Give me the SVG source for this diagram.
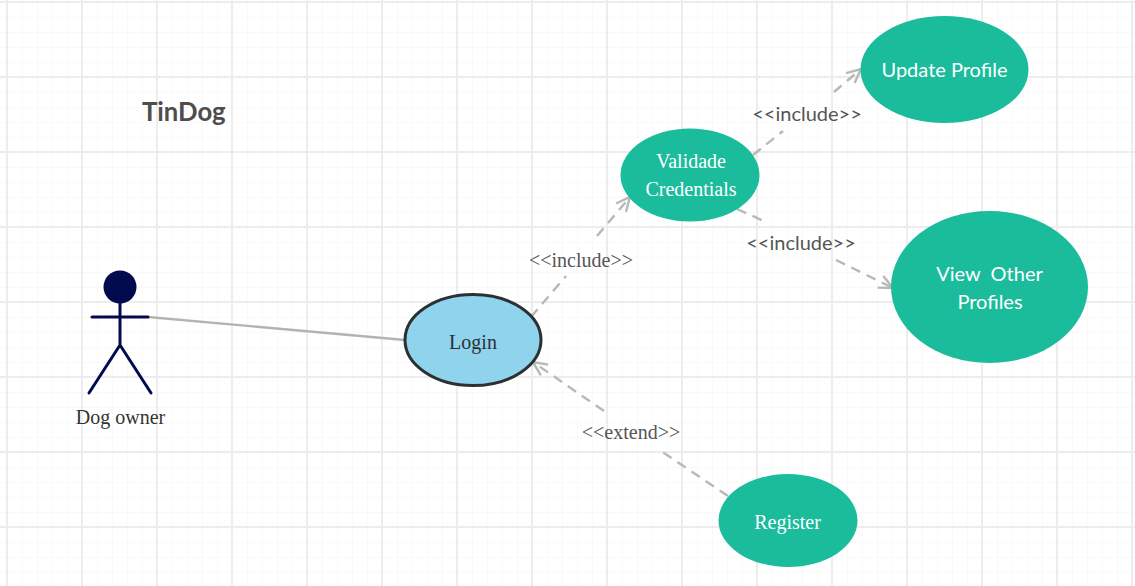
<svg xmlns="http://www.w3.org/2000/svg" width="1135" height="586" viewBox="0 0 1135 586">
<defs>
<pattern id="minor" x="7" y="2" width="15" height="15" patternUnits="userSpaceOnUse"><path d="M0.5 0V15M0 0.5H15" fill="none" stroke="#f9f9f9" stroke-width="1"/></pattern>
<pattern id="major" x="6" y="1" width="75" height="75" patternUnits="userSpaceOnUse"><path d="M1 0V75M0 1H75" fill="none" stroke="#ededed" stroke-width="2"/></pattern>
<marker id="open" markerUnits="userSpaceOnUse" markerWidth="24" markerHeight="24" refX="20" refY="12" orient="auto"><path d="M6 5.500L20 12L6 18.500" fill="none" stroke="#b8b8b8" stroke-width="2.400"/></marker>
</defs>
<style>
.dash{fill:none;stroke:#b8b8b8;stroke-width:2.400;stroke-dasharray:10 7}
.ser{font-family:"Liberation Serif",serif}
.lat{font-family:Lato,sans-serif}
.lab{font-size:20px;fill:#555;text-anchor:middle}
.w{fill:#fff;text-anchor:middle}
.act{stroke:#000a4d;stroke-width:3;fill:none;stroke-linecap:round}
</style>
<rect width="1135" height="586" fill="#fff"/>
<rect width="1135" height="586" fill="url(#minor)"/>
<rect width="1135" height="586" fill="url(#major)"/>
<text id="title" x="142" y="121" class="lat" font-size="25.700" font-weight="700" fill="#4d4d4d">TinDog</text>
<g id="connectors">
<line x1="148" y1="317" x2="405" y2="340" stroke="#b3b3b3" stroke-width="2.400"/>
<line class="dash" x1="531" y1="317" x2="566" y2="276"/>
<line class="dash" x1="597" y1="236" x2="630" y2="197" marker-end="url(#open)"/>
<line class="dash" x1="753" y1="155" x2="783" y2="131"/>
<line class="dash" x1="834" y1="92" x2="861" y2="69" marker-end="url(#open)"/>
<line class="dash" x1="737" y1="209" x2="766" y2="222"/>
<line class="dash" x1="836" y1="260" x2="893" y2="288" marker-end="url(#open)"/>
<line class="dash" x1="728" y1="496" x2="658" y2="449"/>
<line class="dash" x1="604" y1="411" x2="533" y2="362" marker-end="url(#open)"/>
</g>
<g id="label-include-1"><text x="581" y="266.500" class="ser lab">&lt;&lt;include&gt;&gt;</text></g>
<g id="label-include-2"><text x="807" y="120.500" class="lat lab">&lt;&lt;include&gt;&gt;</text></g>
<g id="label-include-3"><text x="801" y="249.500" class="lat lab">&lt;&lt;include&gt;&gt;</text></g>
<g id="label-extend"><text x="631" y="438.500" class="ser lab">&lt;&lt;extend&gt;&gt;</text></g>
<g id="actor">
<circle cx="120" cy="287" r="16.500" fill="#000a4d"/>
<path class="act" d="M120 303V345M92 317H148M120 345L89 393M120 345L151 393"/>
<text x="120.500" y="423.500" class="ser" font-size="20" fill="#333" text-anchor="middle">Dog owner</text>
</g>
<g id="login">
<ellipse cx="473" cy="340" rx="68" ry="45.500" fill="#8fd4ec" stroke="#2b3133" stroke-width="3"/>
<text x="473" y="348.500" class="ser" font-size="20" fill="#2b3133" text-anchor="middle">Login</text>
</g>
<g id="validade">
<ellipse cx="690" cy="175" rx="69.500" ry="46.500" fill="#1abc9c"/>
<text class="ser w" font-size="20"><tspan x="691" y="167.500">Validade</tspan><tspan x="691" y="195.500">Credentials</tspan></text>
</g>
<g id="update">
<ellipse cx="944.500" cy="69.500" rx="84" ry="53.500" fill="#1abc9c"/>
<text x="944.500" y="76.500" class="lat w" font-size="20">Update Profile</text>
</g>
<g id="view">
<ellipse cx="989.500" cy="287" rx="98.500" ry="76" fill="#1abc9c"/>
<text class="lat w" font-size="20" xml:space="preserve"><tspan x="989.500" y="281">View  Other</tspan><tspan x="990" y="309">Profiles</tspan></text>
</g>
<g id="register">
<ellipse cx="788" cy="520.500" rx="69.500" ry="46.500" fill="#1abc9c"/>
<text x="787.500" y="528.500" class="ser w" font-size="20">Register</text>
</g>
</svg>
